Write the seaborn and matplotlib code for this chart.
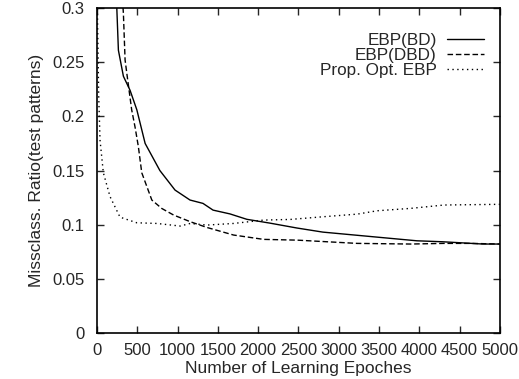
import seaborn as sns
import pandas as pd
import matplotlib.pyplot as plt

# data
bd_epochs = [235, 265, 327, 410, 494, 597, 780, 968, 1154, 1315, 1440, 1650,
             1860, 2146, 2480, 2804, 3474, 3970, 4290, 4790, 5000]
bd_ratio = [0.32, 0.261, 0.237, 0.224, 0.206, 0.175, 0.150, 0.132, 0.1228,
            0.1197, 0.1135, 0.110, 0.105, 0.1015, 0.097, 0.0932, 0.0886,
            0.0852, 0.0843, 0.0822, 0.0822]

dbd_epochs = [305, 327, 348, 369, 430, 472, 513, 555, 680, 804, 949, 1157,
              1364, 1695, 2068, 2484, 3230, 3893, 4303, 4639, 5000]
dbd_ratio = [0.32, 0.295, 0.252, 0.24, 0.206, 0.19, 0.172, 0.148, 0.1228,
             0.115, 0.109, 0.1028, 0.0975, 0.0905, 0.0865, 0.0858, 0.0828,
             0.0822, 0.0828, 0.0828, 0.0822]

opt_epochs = [0, 20, 37, 78, 161, 285, 494, 742, 1032, 1157, 1364, 1695,
              2068, 2400, 2811, 3230, 3478, 3893, 4308, 4950, 5000]
opt_ratio = [0.32, 0.22, 0.178, 0.148, 0.126, 0.107, 0.1018, 0.1012, 0.0988,
             0.1012, 0.0997, 0.1012, 0.1043, 0.1049, 0.1074, 0.1098, 0.1129,
             0.1151, 0.1182, 0.1188, 0.1188]

names = ["EBP(BD)", "EBP(DBD)", "Prop. Opt. EBP"]
x_ticks = list(range(0, 5001, 500))
y_ticks = [0, 0.05, 0.1, 0.15, 0.2, 0.25, 0.3]
y_tick_labels = ["0", "0.05", "0.1", "0.15", "0.2", "0.25", "0.3"]

df = pd.concat([
    pd.DataFrame({"epoch": bd_epochs, "ratio": bd_ratio, "method": names[0]}),
    pd.DataFrame({"epoch": dbd_epochs, "ratio": dbd_ratio, "method": names[1]}),
    pd.DataFrame({"epoch": opt_epochs, "ratio": opt_ratio, "method": names[2]}),
])

sns.set_style("ticks")
plt.rcParams["font.family"] = ["Liberation Sans", "DejaVu Sans"]

fig = plt.figure(figsize=(5.19, 3.79), dpi=100)
ax = fig.add_axes([0.187, 0.121, 0.776, 0.858])

sns.lineplot(data=df, x="epoch", y="ratio", hue="method", style="method",
             palette=["black"] * 3,
             dashes={names[0]: "", names[1]: (4, 2), names[2]: (1, 2.5)},
             sort=False, estimator=None, linewidth=1.0, ax=ax)

ax.set_xlim(0, 5000)
ax.set_ylim(0, 0.3)
ax.set_xticks(x_ticks)
ax.set_xticklabels([str(t) for t in x_ticks])
ax.set_yticks(y_ticks)
ax.set_yticklabels(y_tick_labels)
ax.tick_params(direction="in", top=True, right=True, length=5, width=1,
               labelsize=12)
ax.tick_params(axis="x", pad=7)
ax.tick_params(axis="y", pad=9)
for s in ax.spines.values():
    s.set_linewidth(1.2)
    s.set_color("black")

ax.set_xlabel("Number of Learning Epoches", fontsize=12.5, labelpad=2)
ax.set_ylabel("Missclass. Ratio(test patterns)", fontsize=12.5, labelpad=6)

handles, labels = ax.get_legend_handles_labels()
ax.legend(handles, labels, loc="upper right", frameon=False, markerfirst=False,
          fontsize=12.3, handlelength=2.2, handletextpad=0.6, labelspacing=0.0,
          borderaxespad=0.5, bbox_to_anchor=(1.0, 0.97))

fig.savefig("out.png", dpi=100)
